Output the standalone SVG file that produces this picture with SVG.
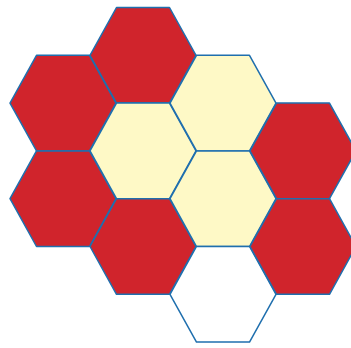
<svg xmlns="http://www.w3.org/2000/svg" xmlns:xlink="http://www.w3.org/1999/xlink" width="351" height="348" viewBox="0 0 351 348">
<style>
.hex{stroke:#1f6fae;stroke-width:1.5;stroke-linejoin:round}
.r{fill:#d0242c}
.y{fill:#fef9c6}
.w{fill:#ffffff}
</style>
<defs>
<polygon id="h" points="-53,0 -26.5,-47.8 26.5,-47.8 53,0 26.5,47.8 -26.5,47.8"/>
</defs>
<g id="hex-0-1"><use xlink:href="#h" href="#h" class="hex r" x="63" y="103.1"/></g>
<g id="hex-0-2"><use xlink:href="#h" href="#h" class="hex r" x="63" y="198.7"/></g>
<g id="hex-1-0"><use xlink:href="#h" href="#h" class="hex r" x="143" y="55.3"/></g>
<g id="hex-1-1"><use xlink:href="#h" href="#h" class="hex y" x="143" y="150.9"/></g>
<g id="hex-1-2"><use xlink:href="#h" href="#h" class="hex r" x="143" y="246.5"/></g>
<g id="hex-2-0"><use xlink:href="#h" href="#h" class="hex y" x="223" y="103.1"/></g>
<g id="hex-2-1"><use xlink:href="#h" href="#h" class="hex y" x="223" y="198.7"/></g>
<g id="hex-2-2"><use xlink:href="#h" href="#h" class="hex w" x="223" y="294.3"/></g>
<g id="hex-3-0"><use xlink:href="#h" href="#h" class="hex r" x="303" y="150.9"/></g>
<g id="hex-3-1"><use xlink:href="#h" href="#h" class="hex r" x="303" y="246.5"/></g>
<g id="connectors"></g>
</svg>
